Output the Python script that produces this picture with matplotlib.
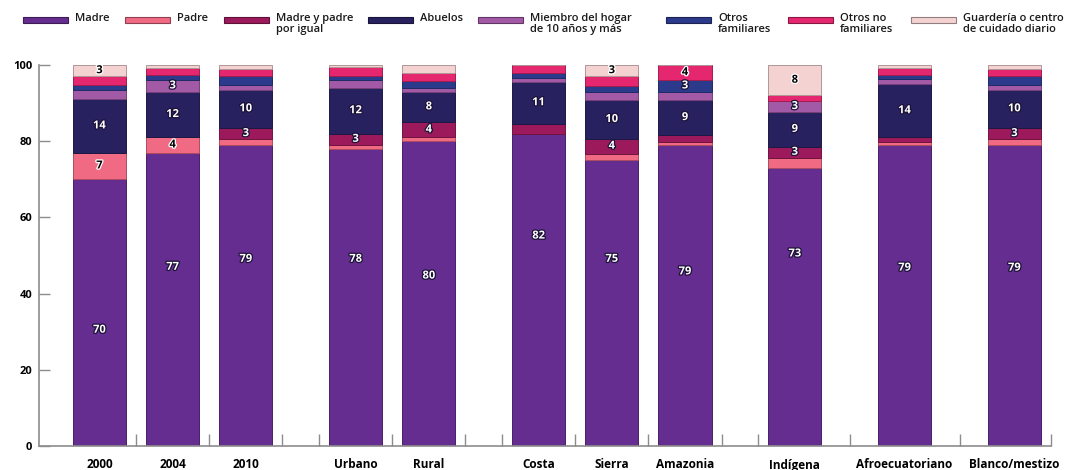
import matplotlib.pyplot as plt
import matplotlib.colors as mcolors
import matplotlib.patheffects as pe
from matplotlib.patches import Rectangle
import numpy as np

plt.rcParams["font.family"] = ["Open Sans", "DejaVu Sans"]

categories = ["2000", "2004", "2010", "Urbano", "Rural", "Costa", "Sierra",
              "Amazonia", "Indígena", "Afroecuatoriano", "Blanco/mestizo"]

series_names = ["Madre", "Padre", "Madre y padre\npor igual", "Abuelos",
                "Miembro del hogar\nde 10 años y más", "Otros\nfamiliares",
                "Otros no\nfamiliares", "Guardería o centro\nde cuidado diario"]

# percentages per caregiver, one value per category
madre = [70, 77, 79, 78, 80, 82, 75, 79, 73, 79, 79]
padre = [7, 4, 1.5, 1.0, 1.0, 0, 1.7, 0.9, 2.6, 0.9, 1.5]
madre_padre = [0, 0, 3, 3, 4, 2.6, 4, 1.8, 3, 1.1, 3]
abuelos = [14, 12, 10, 12, 8, 11, 10, 9, 9, 14, 10]
miembro = [2.5, 3, 1.3, 2.0, 0.9, 1.0, 2.1, 2.3, 3, 1.4, 1.3]
otros_fam = [1.2, 1.4, 2.2, 1.0, 1.9, 1.2, 1.8, 3, 0, 0.9, 2.2]
otros_no_fam = [2.3, 1.8, 2.0, 2.5, 2.2, 2.2, 2.4, 4, 1.4, 1.9, 2.0]
guarderia = [3, 0.8, 1.0, 0.5, 2.0, 0, 3, 0, 8, 0.8, 1.0]

series = [madre, padre, madre_padre, abuelos, miembro, otros_fam,
          otros_no_fam, guarderia]
colors = ["#652d8f", "#f06a84", "#9c1a5b", "#28215f", "#a35aa6", "#2b3a8b",
          "#e5276f", "#f4d2d2"]
dark_label = [False, True, False, False, False, False, True, True]

# bar positions: groups separated by half a slot, ethnic groups spaced wider
x = np.array([0, 1, 2, 3.5, 4.5, 6, 7, 8, 9.5, 11, 12.5])
boundaries = [0.5, 1.5, 2.5, 3.0, 4.0, 5.0, 5.5, 6.5, 7.5, 8.5, 9.0,
              10.25, 11.75, 13.0]
width = 0.726
# the large "Madre" labels sit at hand-placed heights inside the bars
madre_label_y = [30.4, 46.9, 49.0, 49.0, 44.6, 55.1, 49.0, 45.7, 50.4,
                 46.7, 46.7]

W, H = 1078, 470
fig = plt.figure(figsize=(W / 100, H / 100), dpi=100)
ax = fig.add_axes([39 / W, 1 - 446 / H, 1012 / W, 381 / H])


def darker(c, f=0.72):
    r, g, b = mcolors.to_rgb(c)
    return (r * f, g * f, b * f)


white_fx = [pe.withStroke(linewidth=1.8, foreground="#1c1238")]
black_fx = [pe.withStroke(linewidth=1.8, foreground="white")]

bottom = np.zeros(len(categories))
for i, (vals, color, dark) in enumerate(zip(series, colors, dark_label)):
    vals = np.asarray(vals, dtype=float)
    ax.bar(x, vals, width, bottom=bottom, color=color,
           edgecolor=darker(color), linewidth=0.7)
    for j, (xi, b, v) in enumerate(zip(x, bottom, vals)):
        if v < 3:
            continue
        y = madre_label_y[j] if i == 0 else b + v / 2
        ax.text(xi, y, f"{v:.0f}", ha="center", va="center",
                fontsize=8, fontweight="bold",
                color="black" if dark else "white",
                path_effects=black_fx if dark else white_fx)
    bottom += vals

ax.set_xlim(-0.826, 13.0)
ax.set_ylim(0, 100)
ax.set_yticks(range(0, 101, 20))
ax.tick_params(axis="y", direction="in", length=8, width=1, color="#8c8c8c",
               labelsize=8, pad=5)
for lab in ax.get_yticklabels():
    lab.set_fontweight("bold")

ax.set_xticks(x)
ax.set_xticklabels(categories, fontsize=8.5, fontweight="bold")
ax.tick_params(axis="x", which="major", length=0, pad=9)
ax.set_xticks(boundaries, minor=True)
ax.tick_params(axis="x", which="minor", direction="in", length=8.5, width=1,
               color="#8c8c8c")

for side in ["top", "right"]:
    ax.spines[side].set_visible(False)
for side in ["left", "bottom"]:
    ax.spines[side].set_color("#8c8c8c")
    ax.spines[side].set_linewidth(1.2)

# legend row across the top
patch_left = [23, 125, 224, 368, 478, 666, 788, 911]
for px, name, color in zip(patch_left, series_names, colors):
    fig.add_artist(Rectangle((px / W, 1 - 23 / H), 45 / W, 6 / H,
                             transform=fig.transFigure, facecolor=color,
                             edgecolor=darker(color, 0.6), linewidth=0.8))
    fig.text((px + 52) / W, 1 - 13 / H, name, ha="left", va="top",
             fontsize=8, fontweight="semibold", linespacing=1.05,
             color="#1a1a1a")

fig.savefig("out.png", dpi=100)
